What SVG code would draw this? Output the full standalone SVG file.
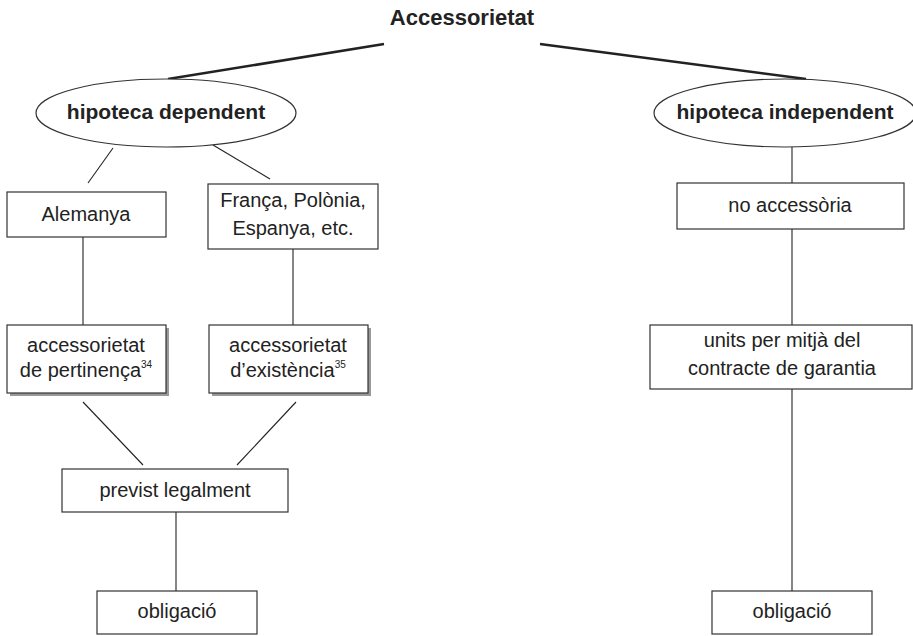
<svg xmlns="http://www.w3.org/2000/svg" width="913" height="636" viewBox="0 0 913 636">
<style>
.bg{fill:#fff}
.box{fill:#fff;stroke:#333;stroke-width:1.2}
.shadow{fill:#999}
.ell{fill:#fff;stroke:#333;stroke-width:1.2}
.t{font-family:"Liberation Sans",Arial,sans-serif;font-size:20px;fill:#222;text-anchor:middle}
.b{font-family:"Liberation Sans",Arial,sans-serif;font-weight:bold;fill:#222;text-anchor:middle}
.sup{font-size:10px}
.c{stroke:#222;stroke-width:1.1;fill:none}
.ct{stroke:#222;stroke-width:2.6;fill:none}
</style>
<rect class="bg" x="0" y="0" width="913" height="636"/>
<g id="connectors">
<line class="ct" x1="384" y1="44" x2="168" y2="79"/>
<line class="ct" x1="540" y1="44" x2="806" y2="79"/>
<line class="c" x1="113" y1="148" x2="88" y2="183"/>
<line class="c" x1="213" y1="145" x2="270" y2="179"/>
<line class="c" x1="83" y1="237" x2="83" y2="325"/>
<line class="c" x1="293" y1="249" x2="293" y2="325"/>
<line class="c" x1="83" y1="402" x2="143" y2="465"/>
<line class="c" x1="296" y1="402" x2="237" y2="465"/>
<line class="c" x1="176" y1="512" x2="176" y2="591"/>
<line class="c" x1="792" y1="147" x2="792" y2="183"/>
<line class="c" x1="792" y1="229" x2="792" y2="325"/>
<line class="c" x1="792" y1="389" x2="792" y2="591"/>
</g>
<g id="title">
<text class="b" x="462" y="25" font-size="22">Accessorietat</text>
</g>
<g id="dep">
<ellipse class="ell" cx="166" cy="113" rx="130" ry="34"/>
<text class="b" x="166" y="119" font-size="21">hipoteca dependent</text>
</g>
<g id="indep">
<ellipse class="ell" cx="785" cy="113" rx="131" ry="34"/>
<text class="b" x="785" y="119" font-size="21">hipoteca independent</text>
</g>
<g id="alemanya">
<rect class="box" x="7" y="192" width="159" height="45"/>
<text class="t" x="86" y="221">Alemanya</text>
</g>
<g id="franca">
<rect class="box" x="208" y="184" width="170" height="65"/>
<text class="t" x="293" y="207">França, Polònia,</text>
<text class="t" x="293" y="235">Espanya, etc.</text>
</g>
<g id="pertinenca">
<rect class="shadow" x="10" y="328" width="159" height="68"/>
<rect class="box" x="7" y="325" width="159" height="68"/>
<text class="t" x="86" y="352">accessorietat</text>
<text class="t" x="86" y="377">de pertinença<tspan class="sup" dy="-9">34</tspan></text>
</g>
<g id="existencia">
<rect class="shadow" x="212" y="328" width="159" height="68"/>
<rect class="box" x="209" y="325" width="159" height="68"/>
<text class="t" x="288" y="352">accessorietat</text>
<text class="t" x="288" y="377">d’existència<tspan class="sup" dy="-9">35</tspan></text>
</g>
<g id="previst">
<rect class="box" x="62" y="469" width="226" height="43"/>
<text class="t" x="175" y="497">previst legalment</text>
</g>
<g id="oblig1">
<rect class="box" x="97" y="591" width="160" height="43"/>
<text class="t" x="177" y="618">obligació</text>
</g>
<g id="noacc">
<rect class="box" x="677" y="183" width="227" height="46"/>
<text class="t" x="790" y="212">no accessòria</text>
</g>
<g id="units">
<rect class="box" x="650" y="325" width="262" height="64"/>
<text class="t" x="782" y="347">units per mitjà del</text>
<text class="t" x="782" y="375">contracte de garantia</text>
</g>
<g id="oblig2">
<rect class="box" x="712" y="591" width="160" height="43"/>
<text class="t" x="792" y="618">obligació</text>
</g>
</svg>
